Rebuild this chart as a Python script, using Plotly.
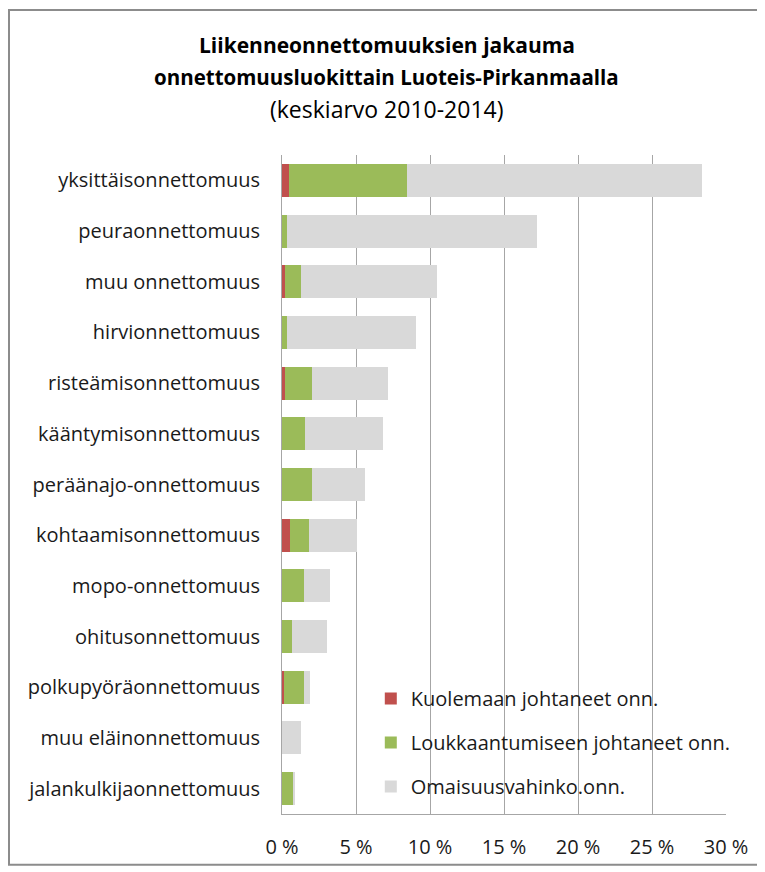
import plotly.graph_objects as go

luokat = ["yksittäisonnettomuus", "peuraonnettomuus", "muu onnettomuus", "hirvionnettomuus",
          "risteämisonnettomuus", "kääntymisonnettomuus", "peräänajo-onnettomuus",
          "kohtaamisonnettomuus", "mopo-onnettomuus", "ohitusonnettomuus",
          "polkupyöräonnettomuus", "muu eläinonnettomuus", "jalankulkijaonnettomuus"]

# osuudet kaikista onnettomuuksista (%)
kuolemaan = [0.45, 0.0, 0.2, 0.0, 0.2, 0.0, 0.0, 0.52, 0.0, 0.0, 0.12, 0.0, 0.0]
loukkaantumiseen = [8.0, 0.34, 1.08, 0.34, 1.85, 1.58, 2.05, 1.3, 1.51, 0.68, 1.39, 0.0, 0.76]
omaisuusvahinko = [19.9, 16.9, 9.2, 8.7, 5.1, 5.22, 3.53, 3.27, 1.75, 2.36, 0.38, 1.28, 0.14]

tikit = [0, 5, 10, 15, 20, 25, 30]
tikkitekstit = ["0 %", "5 %", "10 %", "15 %", "20 %", "25 %", "30 %"]

otsikko = ["<b>Liikenneonnettomuuksien jakauma</b>",
           "<b>onnettomuusluokittain Luoteis-Pirkanmaalla</b>",
           "(keskiarvo 2010-2014)"]

fig = go.Figure()
sarjat = [("Kuolemaan johtaneet onn.", kuolemaan, "#C0504D"),
          ("Loukkaantumiseen johtaneet onn.", loukkaantumiseen, "#9BBB59"),
          ("Omaisuusvahinko.onn.", omaisuusvahinko, "#D9D9D9")]
for nimi, arvot, vari in sarjat:
    fig.add_trace(go.Bar(y=luokat, x=arvot, name=nimi, orientation="h",
                         marker=dict(color=vari, line=dict(width=0)),
                         legendgroup=nimi))

# sivun oletusmarginaali (8px) huomioitu koossa
W, H = 757, 864
L, R, T, B = 274, 39, 147, 54
pw, ph = W - L - R, H - T - B

rivit_y = [36, 69, 101]
koot = [21, 20.5, 23]
for teksti, yy, k in zip(otsikko, rivit_y, koot):
    fig.add_annotation(text=teksti, xref="paper", yref="paper",
                       x=(W / 2 - L) / pw, y=(H - B - yy) / ph,
                       xanchor="center", yanchor="middle", showarrow=False,
                       font=dict(size=k, color="#000000"))

fig.update_layout(
    width=W, height=H,
    margin=dict(l=L, r=R, t=T, b=B),
    barmode="stack", bargap=0.35,
    paper_bgcolor="white", plot_bgcolor="white",
    font=dict(family="Open Sans, sans-serif", size=20, color="#1a1a1a"),
    legend=dict(x=0.2, y=0.205, xanchor="left", yanchor="top",
                bgcolor="rgba(0,0,0,0)", traceorder="grouped", tracegroupgap=15,
                font=dict(size=20)),
    xaxis=dict(range=[0, 30], tickvals=tikit, ticktext=tikkitekstit,
               showgrid=True, gridcolor="#A6A6A6", gridwidth=1,
               showline=True, linecolor="#A6A6A6", zeroline=False,
               ticks="", ticklabelstandoff=15),
    yaxis=dict(autorange="reversed", showline=True, linecolor="#A6A6A6",
               ticks="", ticklabelstandoff=17),
    shapes=[dict(type="rect", xref="paper", yref="paper",
                 x0=(1 - L) / pw, x1=(W - 2 - L) / pw,
                 y0=-(H - 3 - (H - B)) / ph, y1=(H - B - 1) / ph,
                 line=dict(color="#8C8C8C", width=2))],
)

fig.write_html("out.html")
